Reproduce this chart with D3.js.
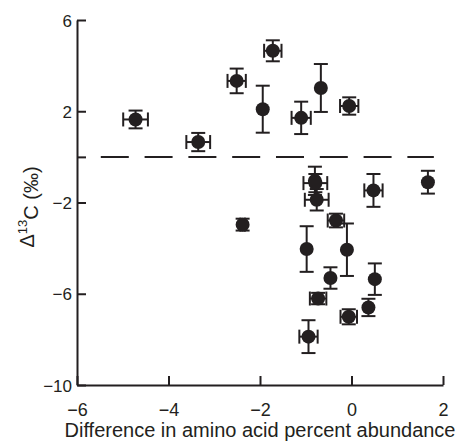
<!DOCTYPE html>
<html>
<head>
<meta charset="utf-8">
<script src="https://cdn.jsdelivr.net/npm/d3@7"></script>
<style>
  html, body { margin: 0; padding: 0; background: #fff; }
  svg { display: block; font-family: "Liberation Sans", Arial, Helvetica, sans-serif; }
</style>
</head>
<body>
<svg id="chart" width="457" height="442"></svg>
<script>
// Amino acid abundance difference vs. Δ13C, with x/y standard errors
const xValues = [-4.72, -3.35, -2.51, -1.72, -1.94, -1.10, -0.67, -0.05,
                 -0.80, -0.79, -0.76, 0.48, 1.67, -2.38, -0.34, -0.98,
                 -0.10, -0.46, 0.51, -0.73, -0.06, 0.37, -0.94];
const yValues = [1.64, 0.65, 3.33, 4.65, 2.09, 1.71, 3.02, 2.23,
                 -1.05, -1.15, -1.88, -1.47, -1.11, -2.97, -2.79, -4.04,
                 -4.07, -5.31, -5.36, -6.21, -7.01, -6.60, -7.88];
const xErrors = [0.27, 0.26, 0.20, 0.19, 0, 0.21, 0, 0.20,
                 0, 0.26, 0.26, 0.20, 0, 0.05, 0.18, 0,
                 0, 0, 0, 0.18, 0.18, 0, 0.20];
const yErrors = [0.39, 0.40, 0.54, 0.46, 1.03, 0.71, 1.05, 0.38,
                 0.62, 0.40, 0.47, 0.72, 0.50, 0.26, 0.30, 1.00,
                 1.15, 0.47, 0.69, 0.25, 0.33, 0.38, 0.72];

const xTicks = [-6, -4, -2, 0, 2];
const yTicks = [6, 2, 0, -2, -6, -10];
const yTickLabels = ["6", "2", "", "\u22122", "\u22126", "\u221210"];
const xTickLabels = ["\u22126", "\u22124", "\u22122", "0", "2"];
const refLine = { y: 0, x0: -5.48, x1: 1.8 };

const svg = d3.select("#chart");
const x = d3.scaleLinear().domain([-6, 2]).range([77, 443]);
const y = d3.scaleLinear().domain([-10, 6]).range([385, 20]);

const ink = "#231f20";
const capHalf = 7;

// axes with inward ticks
const xAxis = d3.axisBottom(x).tickValues(xTicks).tickSizeInner(-9).tickSizeOuter(0)
  .tickFormat((d, i) => xTickLabels[i]).tickPadding(18);
const yAxis = d3.axisLeft(y).tickValues(yTicks).tickSizeInner(-9).tickSizeOuter(0)
  .tickFormat((d, i) => yTickLabels[i]).tickPadding(5);

const gx = svg.append("g").attr("transform", `translate(0,${y(-10)})`).call(xAxis);
const gy = svg.append("g").attr("transform", `translate(${x(-6)},0)`).call(yAxis);

[gx, gy].forEach(g => {
  g.select(".domain").attr("stroke", ink).attr("stroke-width", 2);
  g.selectAll(".tick line").attr("stroke", ink).attr("stroke-width", 2);
  g.selectAll(".tick text").attr("fill", ink).attr("font-family", "Liberation Sans, Arial, sans-serif");
});
gx.selectAll(".tick text").attr("font-size", 18);
gy.selectAll(".tick text").attr("font-size", 17).attr("dy", "0.36em");

// dashed reference line at zero
svg.append("line")
  .attr("x1", x(refLine.x0)).attr("x2", x(refLine.x1))
  .attr("y1", y(refLine.y)).attr("y2", y(refLine.y))
  .attr("stroke", ink).attr("stroke-width", 2)
  .attr("stroke-dasharray", "28,15.8");

const pts = xValues.map((v, i) => ({ x: v, y: yValues[i], xe: xErrors[i], ye: yErrors[i] }));

const bars = svg.append("g").attr("stroke", ink).attr("stroke-width", 2).attr("fill", "none");
pts.forEach(p => {
  if (p.ye > 0) {
    const cx = x(p.x), top = y(p.y + p.ye), bot = y(p.y - p.ye);
    bars.append("line").attr("x1", cx).attr("x2", cx).attr("y1", top).attr("y2", bot);
    bars.append("line").attr("x1", cx - capHalf).attr("x2", cx + capHalf).attr("y1", top).attr("y2", top);
    bars.append("line").attr("x1", cx - capHalf).attr("x2", cx + capHalf).attr("y1", bot).attr("y2", bot);
  }
  if (p.xe > 0) {
    const cy = y(p.y), l = x(p.x - p.xe), r = x(p.x + p.xe);
    bars.append("line").attr("x1", l).attr("x2", r).attr("y1", cy).attr("y2", cy);
    bars.append("line").attr("x1", l).attr("x2", l).attr("y1", cy - capHalf).attr("y2", cy + capHalf);
    bars.append("line").attr("x1", r).attr("x2", r).attr("y1", cy - capHalf).attr("y2", cy + capHalf);
  }
});

svg.append("g").selectAll("circle").data(pts).join("circle")
  .attr("cx", d => x(d.x)).attr("cy", d => y(d.y)).attr("r", 7)
  .attr("fill", ink);

// axis titles
svg.append("text")
  .attr("x", (x(-6) + x(2)) / 2).attr("y", 437)
  .attr("text-anchor", "middle").attr("font-size", 20).attr("fill", ink)
  .text("Difference in amino acid percent abundance");

const yt = svg.append("text")
  .attr("transform", "translate(34,207) rotate(-90)")
  .attr("text-anchor", "middle").attr("font-size", 20).attr("fill", ink);
yt.append("tspan").text("\u0394");
yt.append("tspan").attr("font-size", 13).attr("dy", "-0.55em").text("13");
yt.append("tspan").attr("dy", "0.55em").text("C (\u2030)");
</script>
</body>
</html>
